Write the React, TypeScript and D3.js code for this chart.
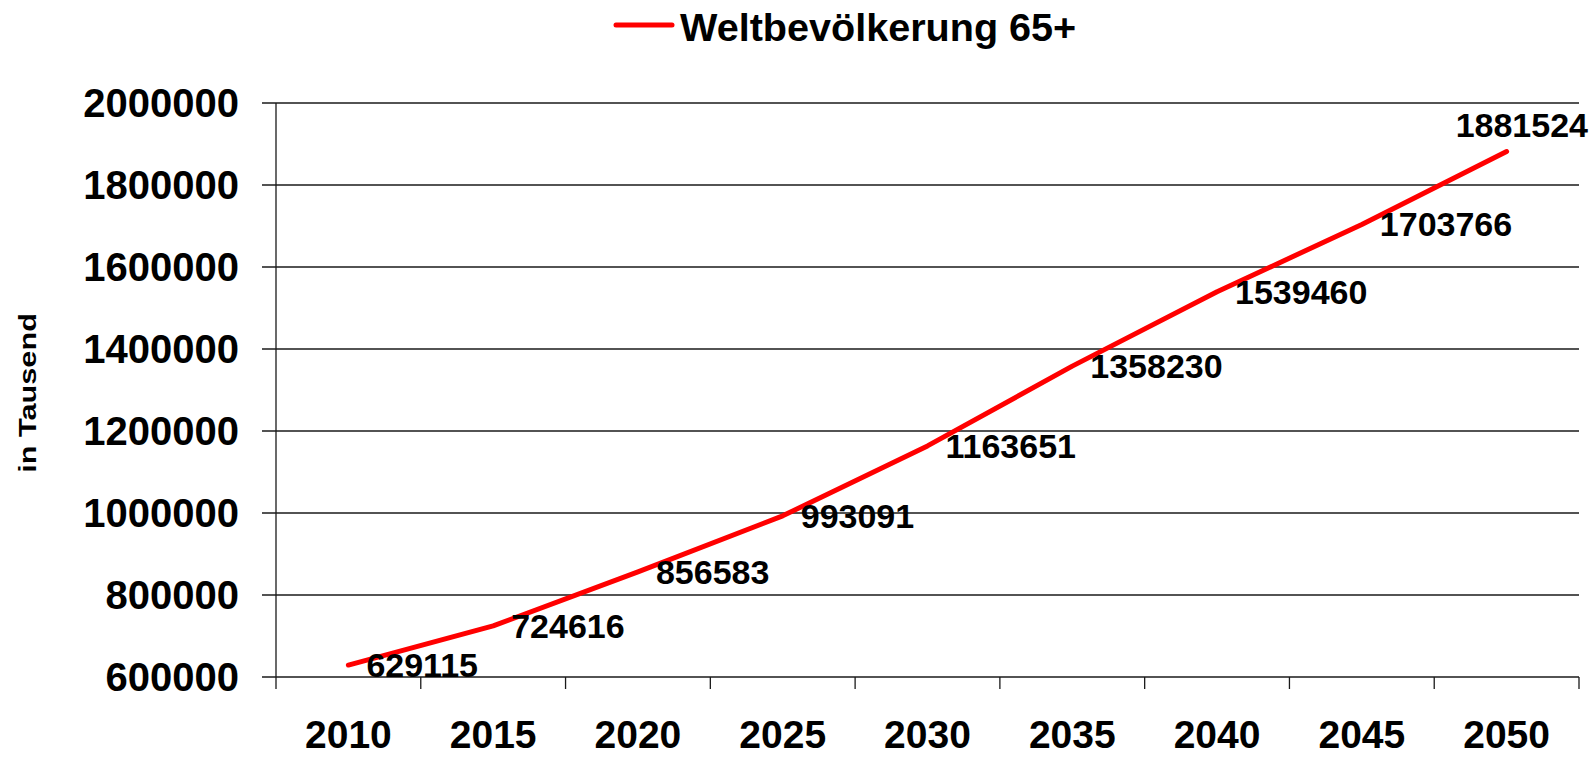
import React from 'react';
import * as d3 from 'd3';

// data
const years = ['2010', '2015', '2020', '2025', '2030', '2035', '2040', '2045', '2050'];
const values = [629115, 724616, 856583, 993091, 1163651, 1358230, 1539460, 1703766, 1881524];
const yTicks = [600000, 800000, 1000000, 1200000, 1400000, 1600000, 1800000, 2000000];
const seriesName = 'Weltbevölkerung 65+';
const axisTitle = 'in Tausend';

const W = 1593;
const H = 757;
const margin = { top: 103, right: 14, bottom: 80, left: 276 };
const font = '"Liberation Sans", Arial, Helvetica, sans-serif';

export default function App() {
    const x = d3.scaleBand<string>()   // one band per year, points sit in the middle
        .domain(years)
        .range([margin.left, W - margin.right])
        .padding(0);

    const y = d3.scaleLinear()
        .domain([600000, 2000000])
        .range([H - margin.bottom, margin.top]);

    const cx = (i: number) => (x(years[i]) as number) + x.bandwidth() / 2;

    const line = d3.line<number>()
        .x((_, i) => cx(i))
        .y(d => y(d));

    const x0 = margin.left;
    const x1 = W - margin.right;
    const yBase = y(600000);

    return (
        <svg width={W} height={H} style={{ position: 'absolute', left: 0, top: 0, display: 'block' }} fontFamily={font} fontWeight="bold">
            <rect width={W} height={H} fill="#fff" />

            {/* legend */}
            <line x1={616} x2={672} y1={25} y2={25} stroke="#ff0000" strokeWidth={5} strokeLinecap="round" />
            <text x={680} y={41.5} fontSize={39} fill="#000" transform="translate(680,0) scale(1.015,1) translate(-680,0)">{seriesName}</text>

            {/* gridlines + y ticks */}
            {yTicks.map(t => (
                <g key={t}>
                    <line x1={x0 - 14} x2={x1} y1={y(t)} y2={y(t)} stroke="#1a1a1a" strokeWidth={1.3} />
                    <text x={239} y={y(t)} dy="0.36em" textAnchor="end" fontSize={40} fill="#000">{t}</text>
                </g>
            ))}

            {/* y axis line */}
            <line x1={x0} x2={x0} y1={margin.top} y2={yBase + 12} stroke="#1a1a1a" strokeWidth={1.3} />

            {/* x tick marks at band edges */}
            {years.map(yr => (
                <line key={'t' + yr} x1={(x(yr) as number) + x.bandwidth()} x2={(x(yr) as number) + x.bandwidth()}
                    y1={yBase} y2={yBase + 12} stroke="#1a1a1a" strokeWidth={1.3} />
            ))}

            {/* x labels */}
            {years.map((yr, i) => (
                <text key={'l' + yr} x={cx(i)} y={748} textAnchor="middle" fontSize={39} fill="#000">{yr}</text>
            ))}

            {/* y axis title */}
            <text transform="translate(36,393) rotate(-90) scale(1.28,1)" textAnchor="middle" fontSize={24} fill="#000">{axisTitle}</text>

            {/* the series */}
            <path d={line(values) as string} fill="none" stroke="#ff0000" strokeWidth={5} strokeLinejoin="round" strokeLinecap="round" />

            {/* data labels, last one pulled left so it fits */}
            {values.map((v, i) => {
                const last = i === values.length - 1;
                return (
                    <text key={'v' + i}
                        x={last ? W - 5 : cx(i) + 18}
                        y={last ? y(v) - 15 : y(v) + 12}
                        textAnchor={last ? 'end' : 'start'}
                        fontSize={34} fill="#000">{v}</text>
                );
            })}
        </svg>
    );
}
